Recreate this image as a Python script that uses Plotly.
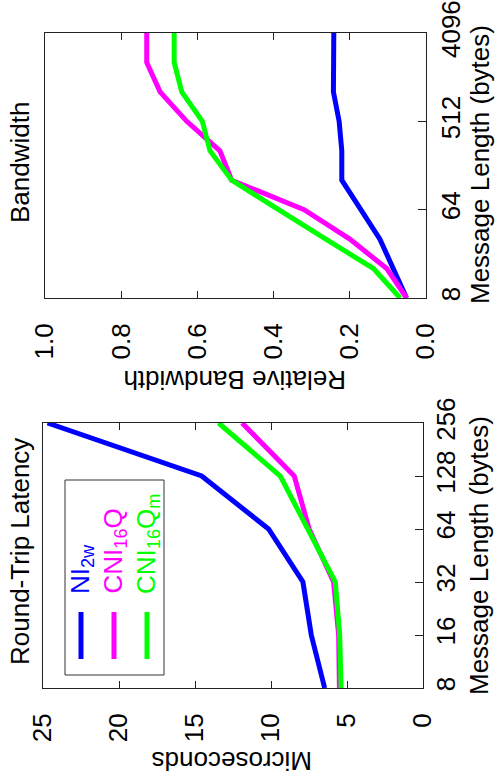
import plotly.graph_objects as go
import math

# ---- data ----
sizes_lat = [8, 16, 32, 64, 128, 256]
lat_ni2w = [6.47, 7.35, 7.9, 10.16, 14.56, 24.7]
lat_cni16q = [5.5, 5.55, 5.88, 7.49, 8.47, 11.9]
lat_cni16qm = [5.39, 5.48, 5.77, 7.62, 9.39, 13.45]

sizes_bw = [8, 16, 32, 64, 128, 256, 512, 1024, 2048, 4096]
bw_ni2w = [0.051, 0.086, 0.121, 0.171, 0.221, 0.221, 0.228, 0.243, 0.243, 0.242]
bw_cni16q = [0.051, 0.103, 0.20, 0.32, 0.51, 0.541, 0.628, 0.698, 0.733, 0.733]
bw_cni16qm = [0.068, 0.138, 0.263, 0.386, 0.51, 0.567, 0.587, 0.641, 0.661, 0.661]

lat_ticks_x = [0, 5, 10, 15, 20, 25]
lat_ticks_y = [8, 16, 32, 64, 128, 256]
bw_ticks_x = [0.0, 0.2, 0.4, 0.6, 0.8, 1.0]
bw_ticks_y = [8, 64, 512, 4096]

series_names = ["NI<sub>2w</sub>", "CNI<sub>16</sub>Q", "CNI<sub>16</sub>Q<sub>m</sub>"]
colors = ["#0000ff", "#ff00ff", "#00ff00"]

W, H = 495, 783
FONT = "Liberation Sans, Arial, sans-serif"
FS = 26


def px(x):
    return x / W


def py(y):
    return 1 - y / H


fig = go.Figure()

# bandwidth (top) -> xaxis / yaxis
for vals, c in zip([bw_ni2w, bw_cni16q, bw_cni16qm], colors):
    fig.add_trace(go.Scatter(x=vals, y=sizes_bw, mode="lines",
                             line=dict(color=c, width=5), xaxis="x", yaxis="y",
                             showlegend=False))
# latency (bottom) -> xaxis2 / yaxis2
for vals, c in zip([lat_ni2w, lat_cni16q, lat_cni16qm], colors):
    fig.add_trace(go.Scatter(x=vals, y=sizes_lat, mode="lines",
                             line=dict(color=c, width=5), xaxis="x2", yaxis="y2",
                             showlegend=False))

common_x = dict(showgrid=False, zeroline=False, showline=True, linecolor="#222",
                linewidth=1, mirror="allticks", ticks="inside", ticklen=7,
                tickcolor="#222", tickangle=-90, side="bottom", automargin=False,
                tickfont=dict(family=FONT, size=FS, color="black"))
common_y = dict(showgrid=False, zeroline=False, showline=True, linecolor="#222",
                linewidth=1, mirror=True, ticks="inside", ticklen=8,
                tickcolor="#222", tickangle=-90, side="right", type="log",
                automargin=False,
                tickfont=dict(family=FONT, size=FS, color="black"))

fig.update_layout(
    width=W, height=H,
    margin=dict(l=0, r=0, t=0, b=0),
    paper_bgcolor="white", plot_bgcolor="white",
    xaxis=dict(common_x, domain=[px(45), px(426)], range=[1.0, 0.0],
               tickvals=bw_ticks_x, ticktext=[f"{v:.1f}" for v in bw_ticks_x],
               anchor="y", ticklabelstandoff=14),
    yaxis=dict(common_y, domain=[py(298), py(33)],
               range=[math.log10(8), math.log10(4096)],
               tickvals=bw_ticks_y, ticktext=[str(v) for v in bw_ticks_y],
               anchor="x", ticklabelstandoff=2),
    xaxis2=dict(common_x, domain=[px(43), px(423)], range=[25, 0],
                tickvals=lat_ticks_x, ticktext=[str(v) for v in lat_ticks_x],
                anchor="y2", ticklabelstandoff=14),
    yaxis2=dict(common_y, domain=[py(688), py(423)],
                range=[math.log10(8), math.log10(256)],
                tickvals=lat_ticks_y, ticktext=[str(v) for v in lat_ticks_y],
                anchor="x2", ticklabelstandoff=0),
)

ann = []
def text(x, y, t, angle, size=FS, color="black", xa="center", ya="middle"):
    ann.append(dict(x=px(x), y=py(y), xref="paper", yref="paper", text=t,
                    textangle=angle, showarrow=False, xanchor=xa, yanchor=ya,
                    font=dict(family=FONT, size=size, color=color)))

# titles
text(20, 163, "Bandwidth", -90)
text(20, 552, "Round-Trip Latency", -90)
# axis titles
text(480, 165, "Message Length (bytes)", -90)
text(479, 556, "Message Length (bytes)", -90)
text(235, 380, "Relative Bandwidth", 180)
text(232, 761, "Microseconds", 180)

# legend
shapes = [dict(type="rect", xref="paper", yref="paper",
               x0=px(65), x1=px(164), y0=py(675), y1=py(480),
               line=dict(color="#333", width=1), fillcolor="white", layer="above")]
leg_x = [81, 114, 147]
for lx, name, c in zip(leg_x, series_names, colors):
    shapes.append(dict(type="line", xref="paper", yref="paper",
                       x0=px(lx), x1=px(lx), y0=py(659), y1=py(612),
                       line=dict(color=c, width=5), layer="above"))
    text(lx, 596, name, -90, color=c, ya="bottom")

fig.update_layout(annotations=ann, shapes=shapes)

fig.write_html("out.html", config={"displayModeBar": False},
               post_script="document.body.style.margin='0';")
